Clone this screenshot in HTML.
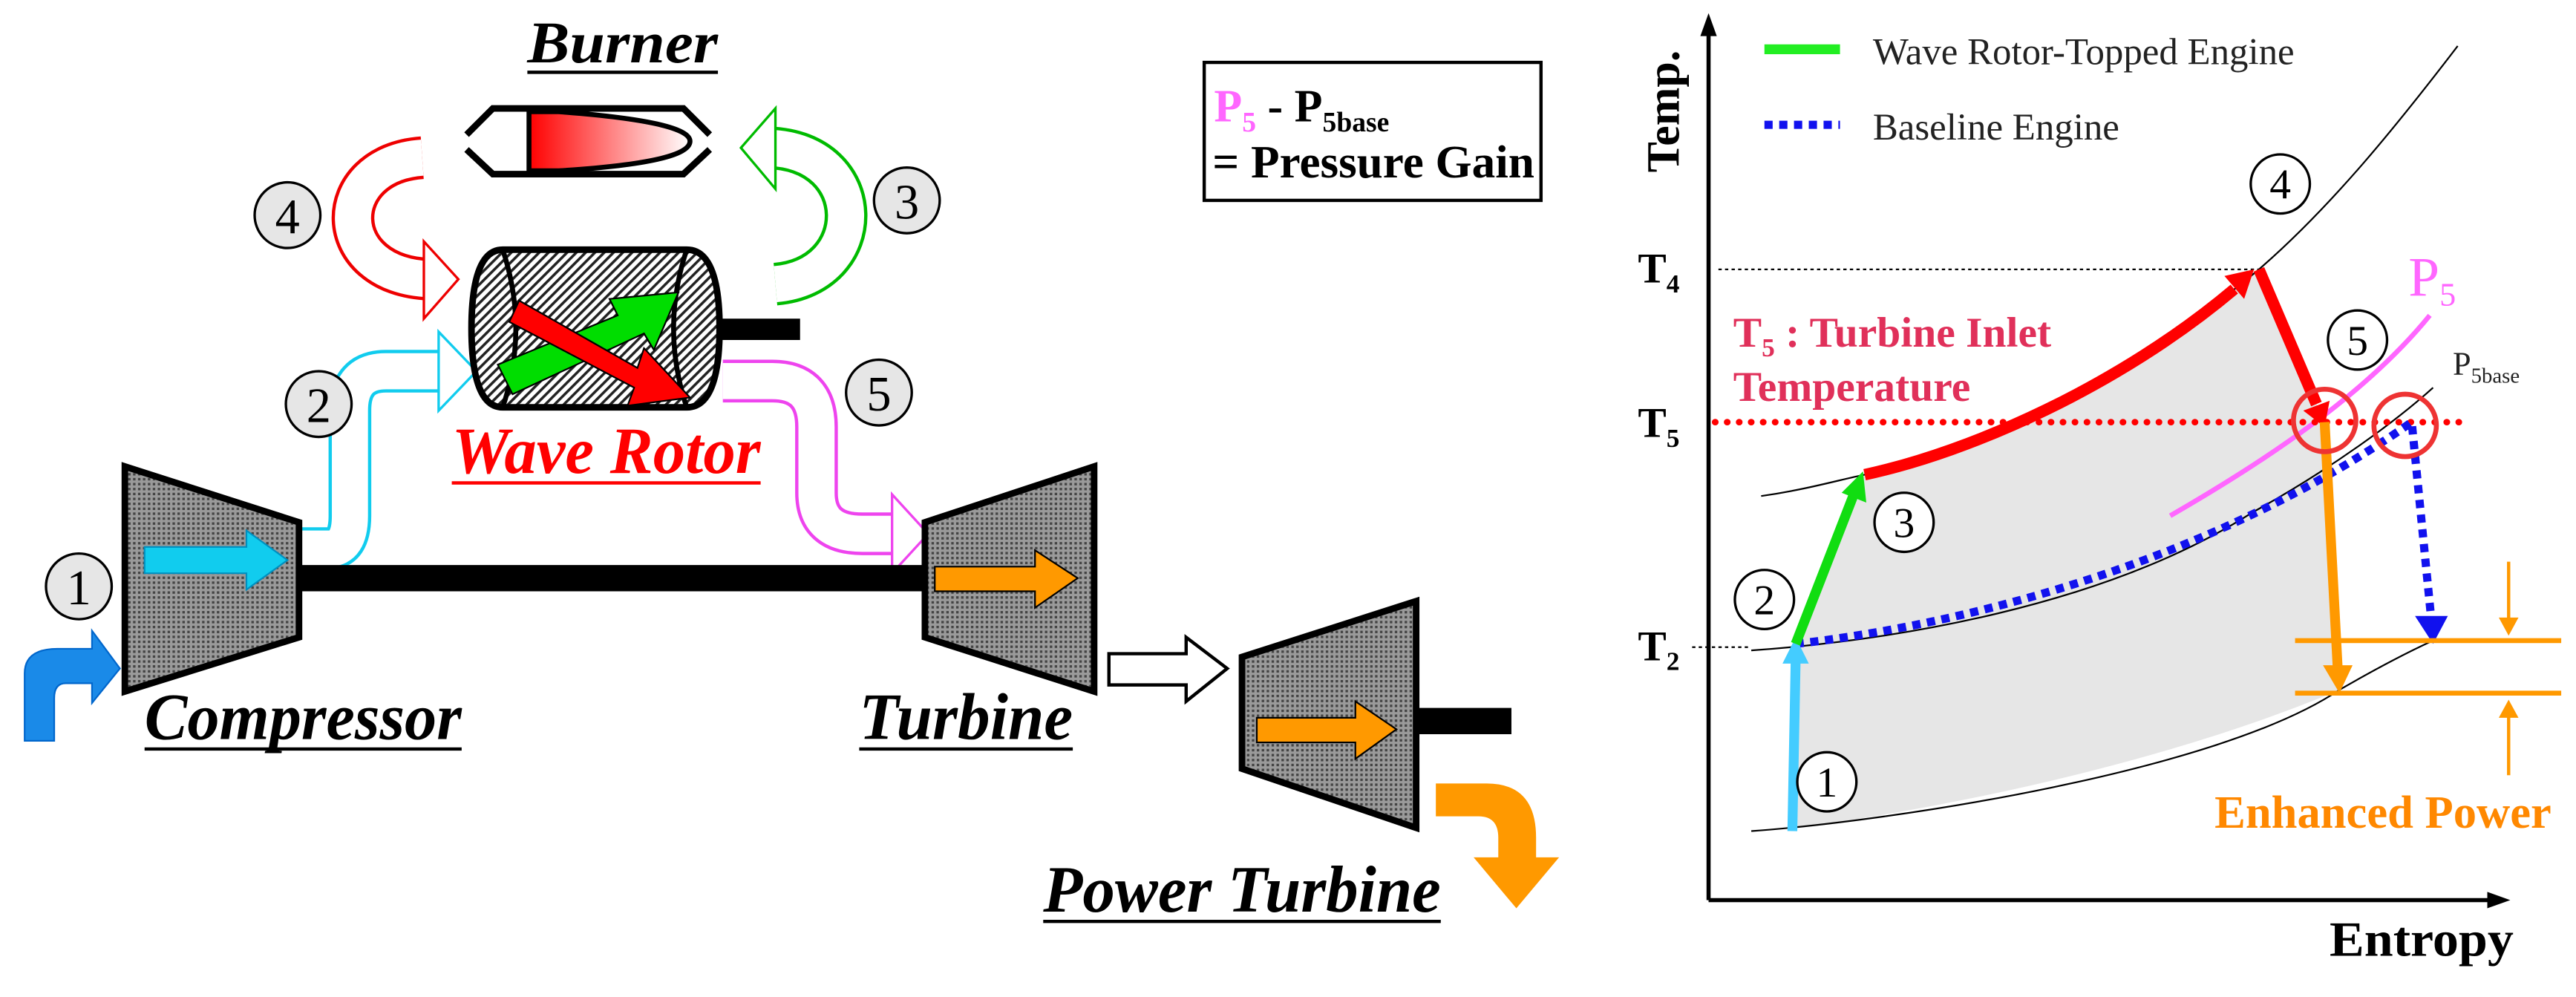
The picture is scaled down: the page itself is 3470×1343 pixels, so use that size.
<!DOCTYPE html>
<html><head><meta charset="utf-8"><style>html,body{margin:0;padding:0;background:#fff;overflow:hidden}svg{display:block}</style></head><body>
<svg width="3470" height="1343" viewBox="0 0 1568 607" preserveAspectRatio="none" xmlns="http://www.w3.org/2000/svg">
<defs>
<pattern id="dots" width="3" height="3" patternUnits="userSpaceOnUse"><rect width="3" height="3" fill="#9a9a9a"/><rect width="1.5" height="1.5" fill="#444"/></pattern>
<pattern id="hatch" width="4" height="4" patternUnits="userSpaceOnUse" patternTransform="rotate(45)"><rect width="4" height="4" fill="#fff"/><rect width="1.6" height="4" fill="#222"/></pattern>
<linearGradient id="flame" x1="0" x2="1"><stop offset="0" stop-color="#f00"/><stop offset="1" stop-color="#fff"/></linearGradient>
</defs>
<g font-family="Liberation Serif, serif">
<text x="321" y="38" font-size="36" font-weight="bold" font-style="italic" textLength="116" lengthAdjust="spacingAndGlyphs">Burner</text>
<line x1="321" y1="44" x2="437" y2="44" stroke="#000" stroke-width="2"/>
<polyline points="284,82 300,66 416,66 432,82" fill="none" stroke="#000" stroke-width="4"/>
<polyline points="284,91 300,106 416,106 432,91" fill="none" stroke="#000" stroke-width="4"/>
<path d="M322,68 L340,68 Q420,74 420,86 Q420,99 340,104 L322,104 Z" fill="url(#flame)" stroke="#000" stroke-width="3"/>
<rect x="733" y="38" width="205" height="84" fill="#fff" stroke="#000" stroke-width="2"/>
<text x="739" y="74" font-size="28" font-weight="bold"><tspan fill="#f6f">P</tspan><tspan fill="#f6f" font-size="17" dy="6">5</tspan><tspan dy="-6"> - P</tspan><tspan font-size="17" dy="6">5base</tspan></text>
<text x="738" y="108" font-size="28" font-weight="bold" textLength="196" lengthAdjust="spacingAndGlyphs">= Pressure Gain</text>
<path d="M257,96 C200,100 200,168 262,170" fill="none" stroke="#e00" stroke-width="26"/>
<path d="M257,96 C200,100 200,168 262,170" fill="none" stroke="#fff" stroke-width="22"/>
<polygon points="258,147 279,170 258,194" fill="#fff" stroke="#e00" stroke-width="1.5"/>
<path d="M472,173 C530,168 530,92 468,90" fill="none" stroke="#0b0" stroke-width="26"/>
<path d="M472,173 C530,168 530,92 468,90" fill="none" stroke="#fff" stroke-width="22"/>
<polygon points="472,66 451,90 472,115" fill="#fff" stroke="#0b0" stroke-width="1.5"/>
<path d="M182,334 L200,334 Q213,334 213,314 L213,250 Q213,226 235,226 L268,226" fill="none" stroke="#1ce" stroke-width="26"/>
<path d="M182,334 L200,334 Q213,334 213,314 L213,250 Q213,226 235,226 L268,226" fill="none" stroke="#fff" stroke-width="22"/>
<polygon points="267,202 290,226 267,250" fill="#fff" stroke="#1ce" stroke-width="1.5"/>
<path d="M440,232 L470,232 Q497,232 497,260 L497,300 Q497,325 525,325 L545,325" fill="none" stroke="#e4e" stroke-width="26"/>
<path d="M440,232 L470,232 Q497,232 497,260 L497,300 Q497,325 525,325 L545,325" fill="none" stroke="#fff" stroke-width="22"/>
<polygon points="543,301 565,325 543,349" fill="#fff" stroke="#e4e" stroke-width="1.5"/>
<rect x="433" y="194" width="54" height="13" fill="#000"/>
<path d="M306,152 L418,152 Q438,152 438,200 Q438,248 418,248 L306,248 Q287,248 287,200 Q287,152 306,152 Z" fill="url(#hatch)" stroke="#000" stroke-width="4"/>
<path d="M306,152 Q322,200 306,248" fill="none" stroke="#000" stroke-width="3"/>
<path d="M418,152 Q402,200 418,248" fill="none" stroke="#000" stroke-width="3"/>
<polygon points="303,222 376,192 371,182 413,178 398,213 392,203 312,240" fill="#0d0" stroke="#000" stroke-width="1"/>
<polygon points="316,183 388,224 392,212 420,242 382,247 386,236 310,196" fill="#f00" stroke="#000" stroke-width="1"/>
<text x="275" y="288" font-size="40" font-weight="bold" font-style="italic" fill="#f00" textLength="188" lengthAdjust="spacingAndGlyphs">Wave Rotor</text>
<line x1="275" y1="294" x2="463" y2="294" stroke="#f00" stroke-width="2"/>
<rect x="182" y="344" width="382" height="16" fill="#000"/>
<polygon points="76,284 182,318 182,388 76,421" fill="url(#dots)" stroke="#000" stroke-width="4"/>
<polygon points="88,333 150,333 150,323 175,341 150,359 150,349 88,349" fill="#1ce" stroke="#0090c0" stroke-width="1"/>
<polygon points="563,318 666,284 666,421 563,388" fill="url(#dots)" stroke="#000" stroke-width="4"/>
<polygon points="569,345 630,345 630,335 656,352 630,370 630,360 569,360" fill="#f90" stroke="#000" stroke-width="1"/>
<polygon points="675,398 722,398 722,388 747,407 722,427 722,417 675,417" fill="#fff" stroke="#000" stroke-width="2"/>
<rect x="862" y="431" width="58" height="16" fill="#000"/>
<polygon points="756,400 862,366 862,504 756,468" fill="url(#dots)" stroke="#000" stroke-width="4"/>
<polygon points="765,437 825,437 825,427 850,444 825,462 825,452 765,452" fill="#f90" stroke="#000" stroke-width="1"/>
<path d="M874,477 L905,477 Q935,477 935,510 L935,522 L949,522 L923,553 L897,522 L912,522 L912,510 Q912,497 900,497 L874,497 Z" fill="#f90"/>
<path d="M15,451 L15,410 Q15,395 35,395 L56,395 L56,384 L73,407 L56,428 L56,416 L40,416 Q33,416 33,425 L33,451 Z" fill="#1a8ae8" stroke="#06c" stroke-width="1"/>
<text x="88" y="450" font-size="40" font-weight="bold" font-style="italic" textLength="193" lengthAdjust="spacingAndGlyphs">Compressor</text>
<line x1="88" y1="456" x2="281" y2="456" stroke="#000" stroke-width="2"/>
<text x="523" y="450" font-size="40" font-weight="bold" font-style="italic" textLength="130" lengthAdjust="spacingAndGlyphs">Turbine</text>
<line x1="523" y1="456" x2="653" y2="456" stroke="#000" stroke-width="2"/>
<text x="635" y="555" font-size="40" font-weight="bold" font-style="italic" textLength="242" lengthAdjust="spacingAndGlyphs">Power Turbine</text>
<line x1="635" y1="561" x2="877" y2="561" stroke="#000" stroke-width="2"/>
<g fill="#e6e6e6" stroke="#000" stroke-width="1.5">
<ellipse cx="48" cy="357" rx="20" ry="20"/><ellipse cx="194" cy="246" rx="20" ry="20"/><ellipse cx="552" cy="122" rx="20" ry="20"/><ellipse cx="175" cy="131" rx="20" ry="20"/><ellipse cx="535" cy="239" rx="20" ry="20"/>
</g>
<g font-size="30" text-anchor="middle">
<text x="48" y="368">1</text><text x="194" y="257">2</text><text x="552" y="133">3</text><text x="175" y="142">4</text><text x="535" y="250">5</text>
</g>

<path d="M1093,504 L1093,392 L1134,290 C1200,275 1280,240 1375,164 L1415,257 L1424,420 C1330,460 1200,490 1093,504 Z" fill="#e6e6e6"/>
<line x1="1040" y1="548" x2="1520" y2="548" stroke="#000" stroke-width="2.5"/>
<polygon points="1528,548 1514,543 1514,553" fill="#000"/>
<line x1="1040" y1="548" x2="1040" y2="16" stroke="#000" stroke-width="2.5"/>
<polygon points="1040,8 1035,22 1045,22" fill="#000"/>
<path d="M1072,302 C1100,298 1120,292 1135,289 C1200,275 1290,235 1375,164 C1420,125 1460,75 1496,28" fill="none" stroke="#000" stroke-width="1"/>
<path d="M1066,396 C1150,390 1280,370 1371,312 C1420,285 1460,255 1481,236" fill="none" stroke="#000" stroke-width="1"/>
<path d="M1066,506 C1150,500 1350,470 1424,420 C1450,405 1470,395 1481,390" fill="none" stroke="#000" stroke-width="1"/>
<line x1="1046" y1="164" x2="1375" y2="164" stroke="#000" stroke-width="1" stroke-dasharray="2,2"/>
<line x1="1030" y1="394" x2="1066" y2="394" stroke="#000" stroke-width="1" stroke-dasharray="2,2"/>
<path d="M1321,314 C1380,280 1440,240 1479,192" fill="none" stroke="#f6f" stroke-width="3"/>
<line x1="1044" y1="257" x2="1500" y2="257" stroke="#f00" stroke-width="4" stroke-dasharray="0.1,7.2" stroke-linecap="round"/>
<path d="M1093,392 C1200,380 1350,340 1468,257 L1480,378" fill="none" stroke="#11e" stroke-width="5" stroke-dasharray="5,4"/>
<polygon points="1470,375 1490,375 1481,392" fill="#11e"/>
<line x1="1091" y1="506" x2="1093" y2="402" stroke="#4cf" stroke-width="6"/>
<polygon points="1085,404 1101,404 1093,388" fill="#4cf"/>
<line x1="1093" y1="392" x2="1128" y2="302" stroke="#1d1" stroke-width="6"/>
<polygon points="1121,300 1136,306 1134,287" fill="#1d1"/>
<path d="M1135,289 C1200,275 1290,235 1360,176" fill="none" stroke="#f00" stroke-width="7"/>
<polygon points="1354,168 1366,182 1372,164" fill="#f00"/>
<line x1="1375" y1="164" x2="1410" y2="246" stroke="#f00" stroke-width="7"/>
<polygon points="1402,250 1418,244 1415,260" fill="#f00"/>
<line x1="1415" y1="257" x2="1423" y2="408" stroke="#f90" stroke-width="6"/>
<polygon points="1414,405 1432,405 1424,422" fill="#f90"/>
<circle cx="1415" cy="256" r="19" fill="none" stroke="#e33" stroke-width="3"/>
<circle cx="1464" cy="259" r="19" fill="none" stroke="#e33" stroke-width="3"/>
<line x1="1397" y1="390" x2="1559" y2="390" stroke="#f90" stroke-width="3"/>
<line x1="1397" y1="422" x2="1559" y2="422" stroke="#f90" stroke-width="3"/>
<line x1="1527" y1="342" x2="1527" y2="380" stroke="#f90" stroke-width="2"/>
<polygon points="1521,376 1533,376 1527,387" fill="#f90"/>
<line x1="1527" y1="472" x2="1527" y2="434" stroke="#f90" stroke-width="2"/>
<polygon points="1521,437 1533,437 1527,426" fill="#f90"/>
<line x1="1074" y1="30" x2="1120" y2="30" stroke="#2e2" stroke-width="6"/>
<line x1="1074" y1="76" x2="1120" y2="76" stroke="#11e" stroke-width="5" stroke-dasharray="5,4"/>
<text x="1140" y="39" font-size="23" fill="#222">Wave Rotor-Topped Engine</text>
<text x="1140" y="85" font-size="23" fill="#222">Baseline Engine</text>
<text transform="translate(1022,105) rotate(-90)" font-size="28" font-weight="bold">Temp.</text>
<text x="1418" y="582" font-size="30" font-weight="bold" textLength="112" lengthAdjust="spacingAndGlyphs">Entropy</text>
<text x="997" y="172" font-size="26" font-weight="bold">T<tspan font-size="16" dy="6">4</tspan></text>
<text x="997" y="266" font-size="26" font-weight="bold">T<tspan font-size="16" dy="6">5</tspan></text>
<text x="997" y="402" font-size="26" font-weight="bold">T<tspan font-size="16" dy="6">2</tspan></text>
<text x="1055" y="211" font-size="26" font-weight="bold" fill="#e0305a">T<tspan font-size="16" dy="6">5</tspan><tspan dy="-6"> : Turbine Inlet</tspan></text>
<text x="1055" y="244" font-size="26" font-weight="bold" fill="#e0305a">Temperature</text>
<text x="1466" y="180" font-size="34" fill="#f6f">P<tspan font-size="20" dy="6">5</tspan></text>
<text x="1493" y="228" font-size="20" fill="#222">P<tspan font-size="13" dy="5">5base</tspan></text>
<text x="1348" y="504" font-size="28" font-weight="bold" fill="#f80" textLength="205" lengthAdjust="spacingAndGlyphs">Enhanced Power</text>
<g fill="#fff" stroke="#000" stroke-width="1.5">
<circle cx="1112" cy="476" r="18"/><circle cx="1074" cy="365" r="18"/><circle cx="1159" cy="318" r="18"/><circle cx="1388" cy="112" r="18"/><circle cx="1435" cy="207" r="18"/>
</g>
<g font-size="26" text-anchor="middle">
<text x="1112" y="485">1</text><text x="1074" y="374">2</text><text x="1159" y="327">3</text><text x="1388" y="121">4</text><text x="1435" y="216">5</text>
</g>
</g>
</svg>
</body></html>
